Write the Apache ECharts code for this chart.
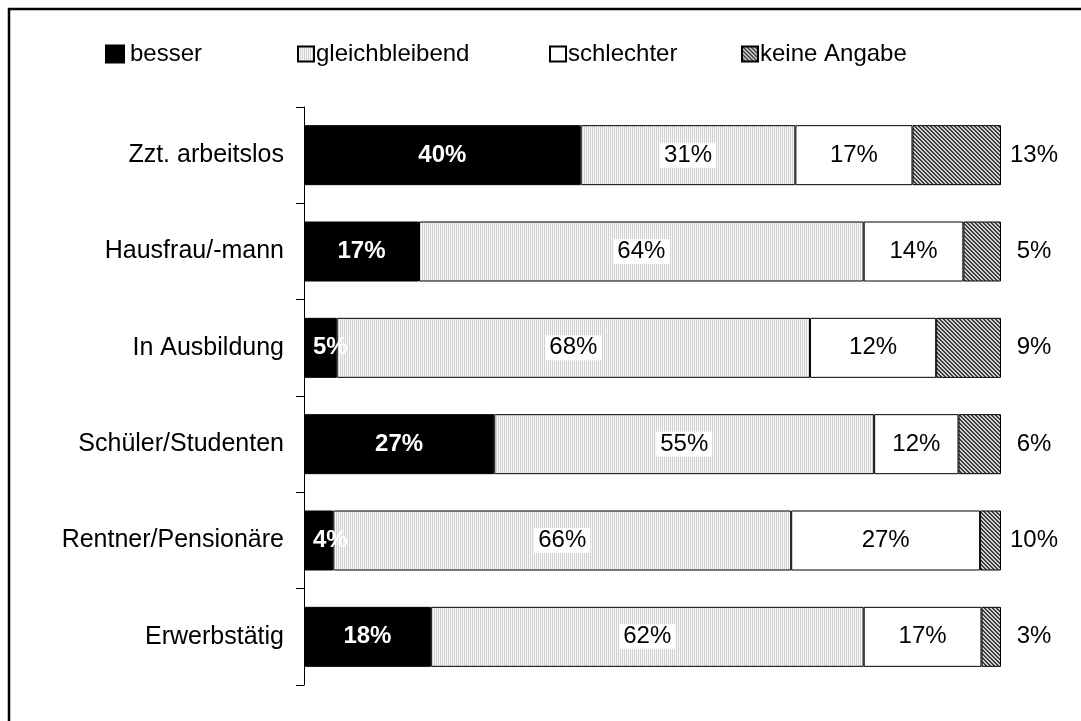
<!DOCTYPE html>
<html>
<head>
<meta charset="utf-8">
<script src="https://cdn.jsdelivr.net/npm/echarts@6/dist/echarts.min.js"></script>
<style>
html,body{margin:0;padding:0;background:#fff;}
#chart{width:1081px;height:721px;}
</style>
</head>
<body>
<div id="chart"></div>
<script>
// Categories, top to bottom
const categories = ['Zzt. arbeitslos', 'Hausfrau/-mann', 'In Ausbildung', 'Schüler/Studenten', 'Rentner/Pensionäre', 'Erwerbstätig'];
const seriesNames = ['besser', 'gleichbleibend', 'schlechter', 'keine Angabe'];
// Segment shares (bar lengths, % of 100)
const besser = [39.7, 16.5, 4.7, 27.3, 4.2, 18.2];
const gleich = [30.8, 63.8, 67.9, 54.5, 65.7, 62.1];
const schlecht = [16.8, 14.3, 18.1, 12.1, 27.1, 16.9];
const keine = [12.7, 5.4, 9.3, 6.1, 3.0, 2.8];
// Printed labels
const besserLbl = [40, 17, 5, 27, 4, 18];
const gleichLbl = [31, 64, 68, 55, 66, 62];
const schlechtLbl = [17, 14, 12, 12, 27, 17];
const keineLbl = [13, 5, 9, 6, 10, 3];

const FONT = "'Liberation Sans', Arial, sans-serif";

function makePattern(size, bg, fg, fn) {
  const c = document.createElement('canvas');
  c.width = size; c.height = size;
  const ctx = c.getContext('2d');
  ctx.fillStyle = bg; ctx.fillRect(0, 0, size, size);
  ctx.fillStyle = fg;
  for (let x = 0; x < size; x++) for (let y = 0; y < size; y++) if (fn(x, y)) ctx.fillRect(x, y, 1, 1);
  return { image: c, repeat: 'repeat' };
}
const dotPattern = makePattern(2, '#f7f7f7', '#d2d2d2', (x, y) => x === 0);
const hatchPattern = makePattern(4, '#cfcfcf', '#404040', (x, y) => (x - y + 4) % 4 === 0 || (x - y + 4) % 4 === 1);

const chart = echarts.init(document.getElementById('chart'));

const baseLabel = { show: true, fontFamily: FONT, fontSize: 24, color: '#000' };

function lblFmt(arr) { return p => arr[p.dataIndex] + '%'; }

const besserData = besser.map((v, i) => {
  if (v < 8) return { value: v, label: { position: 'insideLeft', distance: 9 } };
  return v;
});

const legendLefts = [105, 297, 549, 741];
const legendIcon = [[18, 17, 1], [16, 15, -3], [16, 15, -3], [16, 15, -3]];

const option = {
  animation: false,
  backgroundColor: '#fff',
  textStyle: { fontFamily: FONT },
  graphic: [{
    type: 'rect', shape: { x: 9, y: 9, width: 1200, height: 1000 },
    style: { fill: 'none', stroke: '#000', lineWidth: 2.5 }, silent: true
  }],
  legend: seriesNames.map((n, i) => ({
    data: [n], left: legendLefts[i], top: 42, padding: 0, icon: 'rect',
    itemWidth: legendIcon[i][0], itemHeight: legendIcon[i][1],
    textStyle: { fontFamily: FONT, fontSize: 24, color: '#000', padding: [0, 0, 0, legendIcon[i][2]] }
  })),
  grid: { left: 304, top: 107, width: 697, height: 578 },
  xAxis: { type: 'value', min: 0, max: 100, show: false },
  yAxis: {
    type: 'category', data: categories, inverse: true,
    axisLine: { show: true, lineStyle: { color: '#000', width: 1 } },
    axisTick: { show: true, length: 8, lineStyle: { color: '#000', width: 1 } },
    axisLabel: { fontFamily: FONT, fontSize: 25, color: '#000', margin: 20 }
  },
  series: [
    {
      name: seriesNames[0], type: 'bar', stack: 'a', barWidth: 60, data: besserData,
      itemStyle: { color: '#000', borderColor: '#000', borderWidth: 1 },
      label: Object.assign({}, baseLabel, { position: 'inside', color: '#fff', fontWeight: 'bold', formatter: lblFmt(besserLbl) })
    },
    {
      name: seriesNames[1], type: 'bar', stack: 'a', barWidth: 60, data: gleich,
      itemStyle: { color: dotPattern, borderColor: '#000', borderWidth: 1 },
      label: Object.assign({}, baseLabel, { position: 'inside', backgroundColor: '#fff', padding: [1, 4, 0, 4], formatter: lblFmt(gleichLbl) })
    },
    {
      name: seriesNames[2], type: 'bar', stack: 'a', barWidth: 60, data: schlecht,
      itemStyle: { color: '#fff', borderColor: '#000', borderWidth: 1 },
      label: Object.assign({}, baseLabel, { position: 'inside', formatter: lblFmt(schlechtLbl) })
    },
    {
      name: seriesNames[3], type: 'bar', stack: 'a', barWidth: 60, data: keine,
      itemStyle: { color: hatchPattern, borderColor: '#000', borderWidth: 1 },
      label: Object.assign({}, baseLabel, { position: 'right', distance: 33, align: 'center', formatter: lblFmt(keineLbl) })
    }
  ]
};
chart.setOption(option);
</script>
</body>
</html>
